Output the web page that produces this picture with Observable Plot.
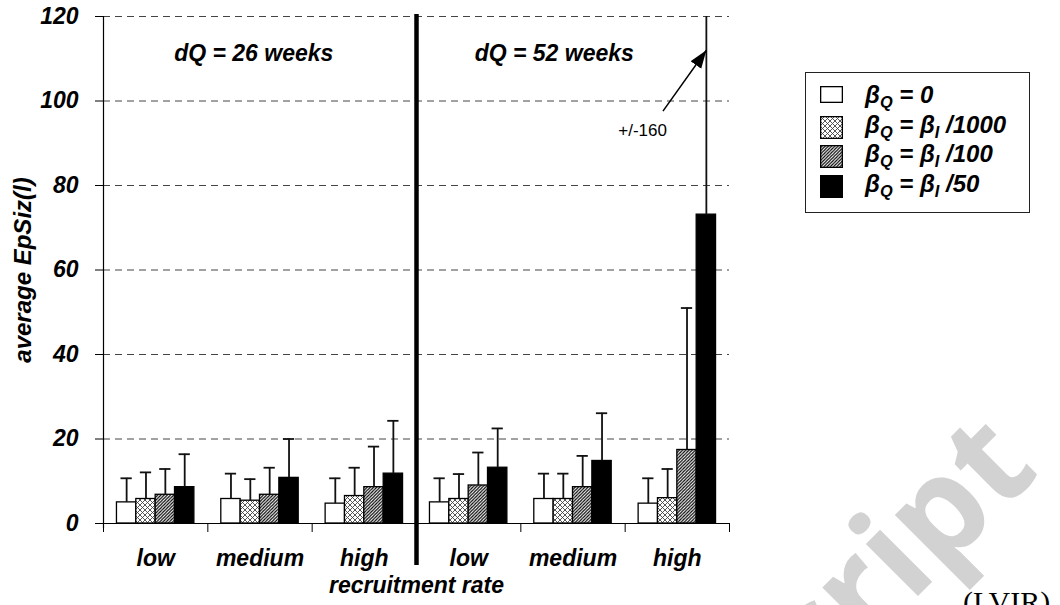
<!DOCTYPE html>
<html>
<head>
<meta charset="utf-8">
<script src="https://cdn.jsdelivr.net/npm/d3@7"></script>
<script src="https://cdn.jsdelivr.net/npm/@observablehq/plot@0.6"></script>
<style>
  html, body { margin: 0; padding: 0; background: #fff; }
  body { width: 1060px; height: 605px; position: relative; overflow: hidden; font-family: "Liberation Sans", Arial, sans-serif; }
  #chart { position: absolute; left: 0; top: 0; }
  #legend { position: absolute; left: 805px; top: 72px; width: 225px; height: 141px; border: 1.5px solid #222; box-sizing: border-box; background: #fff; }
  .sw { position: absolute; left: 14px; }
  .lab { position: absolute; left: 59px; font-size: 24px; font-weight: bold; font-style: italic; line-height: 1; white-space: nowrap; }
  .lab sub { font-size: 0.68em; vertical-align: -0.3em; line-height: 0; }
  #wm { position: absolute; left: 0; top: 0; pointer-events: none; }
  #lvir { position: absolute; left: 963px; top: 587px; font-family: "Liberation Serif", "Times New Roman", serif; font-size: 30px; line-height: 1; }
</style>
</head>
<body>
<svg width="0" height="0" style="position:absolute">
  <defs>
    <pattern id="pat-cross" width="5" height="5" patternUnits="userSpaceOnUse">
      <rect width="5" height="5" fill="#fff"/>
      <path d="M0,0L5,5M5,0L0,5" stroke="#444" stroke-width="0.9"/>
    </pattern>
    <pattern id="pat-hatch" width="3.2" height="3.2" patternUnits="userSpaceOnUse">
      <rect width="3.2" height="3.2" fill="#fff"/>
      <path d="M-1,1L1,-1M0,3.2L3.2,0M2.2,4.2L4.2,2.2" stroke="#000" stroke-width="1.2"/>
    </pattern>
    <marker id="arrowhead" viewBox="-18 -7 18 14" markerWidth="18" markerHeight="14" markerUnits="userSpaceOnUse" orient="auto" refX="0" refY="0">
      <path d="M-18,-6.5L0,0L-18,6.5Z" fill="#000"/>
    </marker>
  </defs>
</svg>
<div id="chart"></div>
<div id="legend"></div>
<svg id="wm" width="1060" height="605"><text x="818" y="696" transform="rotate(-45 818 696)" font-family="Open Sans" font-weight="700" font-size="135" fill="#d2d2d2">cript</text></svg>
<div id="lvir">(LVIR)</div>
<script>
// ---- data ----
const recruitment = ["low", "medium", "high"];
const dQWeeks = [26, 52];
const seriesLabels = ["βQ = 0", "βQ = βI /1000", "βQ = βI /100", "βQ = βI /50"];
// mean average EpSiz(l) per recruitment rate (rows) per series (columns)
const mean26 = [[5.0, 5.8, 6.8, 8.6], [5.8, 5.4, 6.8, 10.8], [4.7, 6.5, 8.6, 11.8]];
const sd26   = [[5.7, 6.3, 6.1, 7.8], [6.0, 5.1, 6.4, 9.2], [6.0, 6.7, 9.6, 12.5]];
const mean52 = [[5.0, 5.8, 9.0, 13.2], [5.8, 5.8, 8.6, 14.8], [4.7, 6.0, 17.4, 73.1]];
const sd52   = [[5.7, 5.9, 7.8, 9.3], [6.0, 6.0, 7.4, 11.3], [6.0, 6.9, 33.6, 160]];
const yTicks = [0, 20, 40, 60, 80, 100, 120];
const bigErrorLabel = "+/-160";

// ---- styles / layout constants ----
const PATTERNS = ["#ffffff", "url(#pat-cross)", "url(#pat-hatch)", "#000000"];
const BAR = 0.1855, CAP = 0.054;

const rows = [];
[mean26, mean52].forEach((M, d) => {
  const S = d ? sd52 : sd26;
  M.forEach((vals, r) => vals.forEach((m, s) => {
    const cat = d * 3 + r;
    const x1 = cat + 0.5 + (s - 2) * BAR;
    rows.push({cat, dQ: dQWeeks[d], rate: recruitment[r], s, mean: m, sd: S[r][s], top: m + S[r][s],
               x1, x2: x1 + BAR, xc: x1 + BAR / 2, fill: PATTERNS[s]});
  }));
});
const big = rows.find(d => d.sd === 160);
const arrow = [{x1: big.xc - 0.416, y1: 97.6, x2: big.xc, y2: 112}];
const dqLabels = [{x: 1.44, y: 111.3, text: `dQ = ${dQWeeks[0]} weeks`}, {x: 4.32, y: 111.3, text: `dQ = ${dQWeeks[1]} weeks`}];

const chart = Plot.plot({
  width: 1060, height: 605,
  marginLeft: 103, marginRight: 331, marginTop: 16, marginBottom: 82,
  x: {type: "linear", domain: [0, 6]},
  y: {type: "linear", domain: [0, 120]},
  color: {type: "identity"},
  style: {fontFamily: "'Liberation Sans', Arial, sans-serif", fontWeight: "bold", fontStyle: "italic", background: "transparent", color: "#000"},
  marks: [
    Plot.ruleY(yTicks.filter(v => v > 0), {stroke: "#444", strokeWidth: 1, strokeDasharray: "7,5"}),
    Plot.rect(rows, {x1: "x1", x2: "x2", y1: d => 0, y2: "mean", fill: "fill", stroke: "#000", strokeWidth: 1.3}),
    Plot.ruleX(rows, {x: "xc", y1: "mean", y2: "top", stroke: "#111", strokeWidth: 1.8, clip: true}),
    Plot.ruleY(rows.filter(d => d.top <= 120), {y: "top", x1: d => d.xc - CAP, x2: d => d.xc + CAP, stroke: "#111", strokeWidth: 1.8}),
    Plot.ruleY([0], {stroke: "#000", strokeWidth: 1.2}),
    Plot.ruleX([0], {stroke: "#000", strokeWidth: 1.2, insetBottom: -5}),
    Plot.ruleX([3], {stroke: "#000", strokeWidth: 4.5, insetTop: -2, insetBottom: -42}),
    Plot.axisY(yTicks, {tickSize: 8, tickPadding: 17, fontSize: 23, fontWeight: "bold", fontStyle: "italic", label: null, tickFormat: d => String(d)}),
    Plot.axisX([0, 1, 2, 4, 5, 6], {tickSize: 9, tickFormat: () => "", label: null}),
    Plot.axisX(d3.range(6).map(i => i + 0.5), {tickSize: 0, tickPadding: 26, fontSize: 23, fontWeight: "bold", fontStyle: "italic", label: null,
      tickFormat: v => recruitment[Math.floor(v) % 3]}),
    Plot.text(["recruitment rate"], {frameAnchor: "bottom", dy: 69, fontSize: 23, fontWeight: "bold", fontStyle: "italic"}),
    Plot.text(["average EpSiz(l)"], {frameAnchor: "left", textAnchor: "middle", dx: -80, rotate: -90, fontSize: 24, fontWeight: "bold", fontStyle: "italic"}),
    Plot.text(dqLabels, {x: "x", y: "y", text: "text", fontSize: 23, fontWeight: "bold", fontStyle: "italic"}),
    Plot.link(arrow, {x1: "x1", y1: "y1", x2: "x2", y2: "y2", stroke: "#000", strokeWidth: 1.5}),
    Plot.text(arrow, {x: "x1", y: "y1", text: () => bigErrorLabel, textAnchor: "end", dx: 4, dy: 19, fontSize: 17, fontWeight: "normal", fontStyle: "normal"})
  ]
});
const lp = chart.querySelector('g[aria-label="link"] path');
if (lp) lp.setAttribute("marker-end", "url(#arrowhead)");
document.getElementById("chart").appendChild(chart);

// legend
const legend = document.getElementById("legend");
const fmt = s => s.replace(/β([QI])/g, "β<sub>$1</sub>");
seriesLabels.forEach((lab, i) => {
  const top = 13 + i * 29.7;
  const h = i === 0 ? 16 : 22;
  legend.insertAdjacentHTML("beforeend",
    `<svg class="sw" style="top:${top}px" width="23" height="${h + 1}"><rect x="0.65" y="0.65" width="21.7" height="${h - 0.3}" fill="${PATTERNS[i]}" stroke="#000" stroke-width="1.3"/></svg>` +
    `<div class="lab" style="top:${top - 3}px">${fmt(lab)}</div>`);
});
</script>
</body>
</html>
